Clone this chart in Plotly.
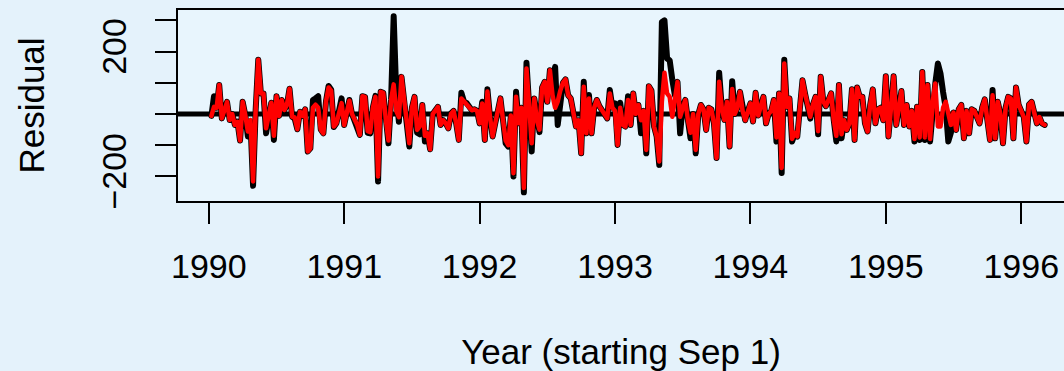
import plotly.graph_objects as go

start_year = 1990 + 1/52
weeks_per_year = 52

red_values = [
    -6, 23, 20, 93, -14, 13, 39, -19, 0, -35, -25, -85, 39, -3, -56, -19, -216, 13, 174, 66,
    66, -46, 2, 36, -70, 57, -6, 45, 13, 29, 81, -9, -11, -49, 7, -6, 15, -120, -110, 20,
    30, 20, -50, -62, 40, 85, 75, -40, -30, 10, 35, -35, 10, 43, 0, -20, -35, -67, 57, 55,
    -55, -58, 20, 55, -200, 71, 68, -20, -85, 45, 95, 10, -10, 119, 40, -20, -94, 20, 55, -51,
    -40, 29, -70, -62, -113, 0, 15, 23, -35, -20, -30, -46, 0, 10, -30, -83, 50, 40, 35, 20,
    12, 15, 10, -30, 34, -83, 72, -10, -72, -30, 20, 50, -20, -85, -100, -5, -190, 55, -30, 20,
    -237, 146, 30, -94, 50, -20, -50, 85, 103, 39, 140, 60, 20, 40, 75, 100, 111, 60, 50, 10,
    -40, -20, -126, 87, -62, 50, -62, 20, 45, 25, 10, 0, -14, 66, 20, 10, -99, 20, -35, -40,
    45, -35, 66, 0, 29, -20, 10, -115, 89, 75, -40, -72, -152, 40, 132, 66, 55, -9, 50, 103,
    -9, 25, 45, -20, -60, 0, -115, 0, 29, 15, -51, 20, 15, -30, -141, 103, 20, -19, 39, -104,
    80, 0, 20, 71, 10, -20, 10, 34, -24, 68, -5, 30, 55, -30, 0, 10, 45, -75, 66, -173,
    162, 23, 50, -80, -60, -72, 40, 108, 65, 23, -9, 30, 55, -55, 119, 40, 25, 45, 66, -19,
    -70, 93, -65, -20, -51, -30, 79, -83, 85, 55, 55, -30, -56, 30, 79, -30, 15, 20, -20, 121,
    -72, 20, 121, -35, 25, 74, -35, 29, -40, 10, -80, 23, -75, 135, -75, 93, -80, 40, 98, -40,
    -40, 20, 39, 0, -35, 5, -51, 15, 29, -78, 10, -62, 15, 10, -10, -30, 20, 47, -20, -83,
    60, -78, 39, 0, -94, 20, 55, 50, -78, 85, 30, 10, -10, -88, 30, 39, 10, -30, -10, -30,
    -35,
]

black_values = [
    -6, 57, 20, 93, -14, 13, 39, -19, 0, -35, -25, -85, 39, -3, -72, -25, -230, 13, 174, 66,
    66, -62, 2, 36, -83, 57, -6, 45, 13, 29, 81, -9, -15, -49, 7, -6, 15, -120, -110, 45,
    50, 57, -50, -62, 40, 90, 78, -42, -30, 10, 50, -35, 10, 45, 0, -20, -35, -67, 57, 55,
    -60, -62, 20, 58, -216, 71, 68, -20, -94, 45, 313, 60, -25, 119, 40, -20, -104, 20, 55, -60,
    -65, 29, -88, -62, -113, 0, 15, 23, -35, -20, -30, -46, 2, 10, -30, -83, 68, 40, 35, 20,
    12, 15, 10, -30, 39, -83, 79, -10, -72, -30, 20, 50, -20, -94, -104, -5, -200, 71, -30, 20,
    -251, 164, 30, -120, 50, -20, -58, 85, 103, 39, 140, 80, 151, -35, 60, 100, 111, 60, 50, 10,
    -40, -20, -126, 103, -62, 61, -62, 20, 45, 25, 10, 0, -14, 77, 20, 34, -99, 36, -35, -40,
    57, -35, 66, 0, 29, -62, 10, -126, 89, 75, -40, -72, -163, 295, 300, 178, 172, 110, 60, 103,
    -62, 25, 45, -20, -78, 0, -126, 0, 29, 15, -51, 20, 15, -30, -141, 132, 20, -19, 39, -104,
    105, 0, 20, 71, 10, -20, 10, 34, -24, 68, -5, 30, 55, -30, 0, 10, 45, -88, 66, -189,
    174, 23, 50, -88, -65, -72, 40, 108, 65, 23, -15, 30, 55, -65, 119, 40, 25, 45, 66, -19,
    -88, 93, -78, -20, -51, -30, 79, -83, 85, 55, 55, -30, -56, 30, 79, -30, 15, 20, -20, 121,
    -72, 20, 121, -35, 25, 74, -35, 29, -40, 10, -88, 23, -83, 135, -83, 93, -88, 40, 98, 162,
    130, 70, 20, -88, -60, 5, -51, 15, 29, -78, 10, -62, 15, 10, -10, -30, 20, 47, -20, -83,
    77, -78, 39, 0, -94, 20, 55, 50, -78, 85, 30, 10, -10, -88, 30, 39, 10, -30, -10, -30,
    -35,
]

x_tick_years = [1990, 1991, 1992, 1993, 1994, 1995, 1996]
y_tick_values = [-200, -100, 0, 100, 200, 300]
y_tick_labels = ["\u2212200", "", "", "", "200", ""]

years = [start_year + i / weeks_per_year for i in range(len(red_values))]

fig = go.Figure()
fig.add_trace(go.Scatter(x=years, y=black_values, mode="lines",
                         line=dict(color="black", width=6), hoverinfo="skip"))
fig.add_trace(go.Scatter(x=years, y=red_values, mode="lines",
                         line=dict(color="#ff0000", width=4.5), hoverinfo="skip"))
fig.add_hline(y=0, line=dict(color="black", width=5), layer="below")

font = "Liberation Sans, Arial, sans-serif"
fig.update_layout(
    width=1064, height=371,
    margin=dict(l=178, r=0, t=10, b=170),
    paper_bgcolor="#e4f2fb",
    plot_bgcolor="#e8f5fd",
    showlegend=False,
    font=dict(family=font, color="black"),
    xaxis=dict(
        range=[1989.7725, 1996.316], tickvals=x_tick_years,
        ticktext=[str(v) for v in x_tick_years],
        ticks="outside", ticklen=21, tickwidth=2, tickcolor="black",
        showline=True, linecolor="black", linewidth=2, mirror=True,
        showgrid=False, zeroline=False,
        tickfont=dict(size=34), ticklabelstandoff=13,
        title=dict(text="Year (starting Sep 1)", font=dict(size=35), standoff=56),
    ),
    yaxis=dict(
        range=[-278.8, 333.3], tickvals=y_tick_values, ticktext=y_tick_labels,
        ticks="outside", ticklen=21, tickwidth=2, tickcolor="black",
        showline=True, linecolor="black", linewidth=2, mirror=False,
        showgrid=False, zeroline=False, tickangle=-90,
        tickfont=dict(size=34), ticklabelstandoff=15,
        title=dict(text="Residual", font=dict(size=35), standoff=40),
    ),
)

post = (
    "document.body.style.margin='0';"
    "document.querySelectorAll('.scatterlayer path.js-line').forEach("
    "function(p){p.style.strokeLinejoin='round';p.style.strokeLinecap='round';});"
)
fig.write_html("out.html", config={"displayModeBar": False}, post_script=post)
